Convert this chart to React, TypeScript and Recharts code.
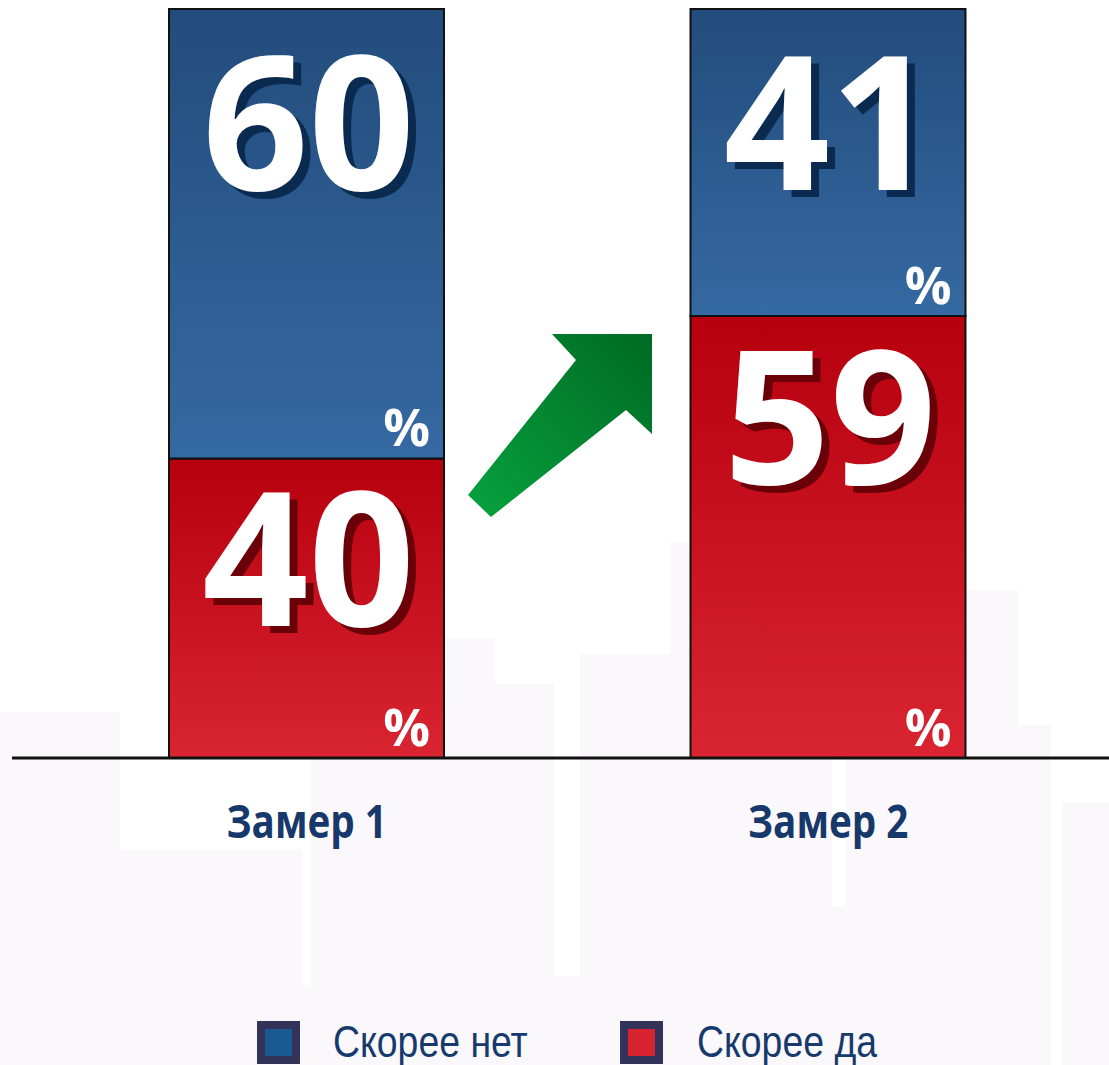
import React from "react";
import { BarChart, Bar, XAxis, YAxis, Legend, LabelList } from "recharts";

const categories = ["Замер 1", "Замер 2"];
const noValues = [60, 41]; // Скорее нет (top, blue)
const yesValues = [40, 59]; // Скорее да (bottom, red)
const seriesNames = ["Скорее нет", "Скорее да"];

const data = categories.map((name, i) => ({
  name,
  yes: yesValues[i],
  no: noValues[i],
}));

const W = 1109;
const H = 1065;

const makeLabel = (shadow: string, baseOffset: number) => (props: any) => {
  const { x, y, width, height, value } = props;
  const cx = x + width / 2 + 2;
  const by = y + baseOffset;
  const px = x + width - 14;
  const py = y + height - 12;
  return (
    <g fontFamily="'Open Sans', sans-serif" fontWeight={700}>
      <text x={cx + 8} y={by + 7} textAnchor="middle" fontSize={186} fill={shadow}>
        {value}
      </text>
      <text x={cx} y={by} textAnchor="middle" fontSize={186} fill="#ffffff">
        {value}
      </text>
      <text x={px} y={py} textAnchor="end" fontSize={52} fill="#ffffff">
        %
      </text>
    </g>
  );
};

const CategoryTick = (props: any) => {
  const { x, y, payload } = props;
  return (
    <g transform={`translate(${x},${y + 72}) scale(0.84,1)`}>
      <text
        x={0}
        y={0}
        textAnchor="middle"
        fontFamily="'Open Sans', sans-serif"
        fontWeight={700}
        fontSize={46}
        fill="#17386a"
      >
        {payload.value}
      </text>
    </g>
  );
};

const legendColors = ["#1a5a93", "#d6232f"];

const LegendContent = () => (
  <div style={{ position: "relative", width: W, height: 60 }}>
    {seriesNames.map((s, i) => (
      <React.Fragment key={s}>
        <div
          style={{
            position: "absolute",
            left: i === 0 ? 257 : 620,
            top: 16,
            width: 27,
            height: 27,
            border: "8px solid #33335a",
            background: legendColors[i],
          }}
        />
        <span
          style={{
            position: "absolute",
            left: i === 0 ? 333 : 697,
            top: 12,
            fontFamily: "'Liberation Sans', Arial, sans-serif",
            fontSize: 44,
            lineHeight: "50px",
            color: "#173a6c",
            whiteSpace: "nowrap",
            transform: "scaleX(0.85)",
            transformOrigin: "left center",
          }}
        >
          {s}
        </span>
      </React.Fragment>
    ))}
  </div>
);

// faint skyline behind the chart
const bgBlocks = [
  { l: 0, t: 712, w: 120, h: 353 },
  { l: 120, t: 849, w: 183, h: 216 },
  { l: 303, t: 987, w: 8, h: 78 },
  { l: 311, t: 755, w: 133, h: 310 },
  { l: 444, t: 638, w: 51, h: 427 },
  { l: 495, t: 684, w: 59, h: 381 },
  { l: 554, t: 976, w: 26, h: 89 },
  { l: 580, t: 654, w: 91, h: 411 },
  { l: 671, t: 542, w: 161, h: 523 },
  { l: 832, t: 907, w: 14, h: 158 },
  { l: 846, t: 542, w: 120, h: 523 },
  { l: 966, t: 590, w: 52, h: 475 },
  { l: 1018, t: 725, w: 33, h: 340 },
  { l: 1062, t: 803, w: 47, h: 262 },
];

export default function App() {
  return (
    <div style={{ position: "absolute", left: 0, top: 0, width: W, height: H, background: "#ffffff" }}>
      {bgBlocks.map((b, i) => (
        <div
          key={i}
          style={{ position: "absolute", left: b.l, top: b.t, width: b.w, height: b.h, background: "#faf8fb" }}
        />
      ))}
      <div style={{ position: "absolute", left: 0, top: 0 }}>
        <BarChart
          width={W}
          height={H}
          data={data}
          margin={{ top: 9, right: 0, bottom: 167, left: 12 }}
          barCategoryGap={0}
          barSize={275}
        >
          <defs>
            <linearGradient id="gBlue" x1="0" y1="0" x2="0" y2="1">
              <stop offset="0%" stopColor="#224c7c" />
              <stop offset="100%" stopColor="#3569a1" />
            </linearGradient>
            <linearGradient id="gRed" x1="0" y1="0" x2="0" y2="1">
              <stop offset="0%" stopColor="#b7000e" />
              <stop offset="100%" stopColor="#d92431" />
            </linearGradient>
          </defs>
          <XAxis
            dataKey="name"
            height={80}
            axisLine={{ stroke: "#111", strokeWidth: 3 }}
            tickLine={false}
            tick={<CategoryTick />}
            padding={{ left: 34, right: 20 }}
            interval={0}
          />
          <YAxis hide domain={[0, 100]} />
          <Legend
            verticalAlign="bottom"
            content={<LegendContent />}
            wrapperStyle={{ top: 1005, left: 0, height: 60, width: W }}
          />
          <Bar
            dataKey="yes"
            name={seriesNames[1]}
            stackId="s"
            fill="url(#gRed)"
            stroke="#111"
            strokeWidth={2}
            isAnimationActive={false}
          >
            <LabelList dataKey="yes" content={makeLabel("#6a0008", 168)} />
          </Bar>
          <Bar
            dataKey="no"
            name={seriesNames[0]}
            stackId="s"
            fill="url(#gBlue)"
            stroke="#111"
            strokeWidth={2}
            isAnimationActive={false}
          >
            <LabelList dataKey="no" content={makeLabel("#0b2a50", 181)} />
          </Bar>
        </BarChart>
      </div>
      <svg
        width={W}
        height={H}
        style={{ position: "absolute", left: 0, top: 0, pointerEvents: "none" }}
      >
        <defs>
          <linearGradient id="gArrow" x1="0" y1="1" x2="1" y2="0">
            <stop offset="0%" stopColor="#07a23e" />
            <stop offset="100%" stopColor="#006a24" />
          </linearGradient>
        </defs>
        <polygon
          points="468,495 491,517 626,410 652,434 652,334 552,334 576,360"
          fill="url(#gArrow)"
        />
      </svg>
    </div>
  );
}
